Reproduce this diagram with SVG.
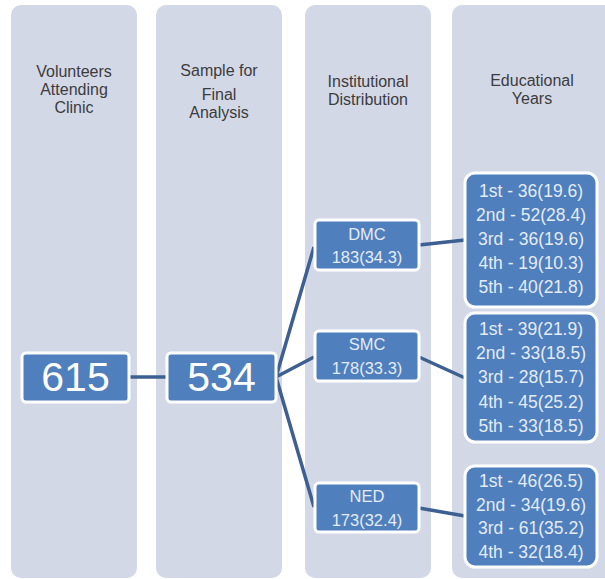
<svg xmlns="http://www.w3.org/2000/svg" width="605" height="579" viewBox="0 0 605 579">
<style>
.col{fill:#D3D8E7}
.hdr{font-family:"Liberation Sans",Arial,sans-serif;font-size:16px;fill:#3c3c3c;text-anchor:middle}
.box{fill:#4F7FBC;stroke:#FFFFFF;stroke-width:3}
.big{font-family:"Liberation Sans",Arial,sans-serif;font-size:41px;fill:#FFFFFF;text-anchor:middle}
.mid{font-family:"Liberation Sans",Arial,sans-serif;font-size:16.5px;fill:#E4ECF7;text-anchor:middle}
.yr{font-family:"Liberation Sans",Arial,sans-serif;font-size:17.5px;fill:#E4ECF7;text-anchor:middle}
.con{stroke:#3E5F91;stroke-width:3.5;fill:none;stroke-linecap:butt}
</style>
<rect width="605" height="579" fill="#FFFFFF"/>
<g id="columns">
<rect class="col" x="11" y="5" width="126" height="573" rx="10"/>
<rect class="col" x="156" y="5" width="126" height="573" rx="10"/>
<rect class="col" x="305" y="5" width="126" height="573" rx="10"/>
<rect class="col" x="452" y="5" width="165" height="573" rx="10"/>
</g>
<g id="headers">
<text class="hdr" x="74" y="77">Volunteers</text>
<text class="hdr" x="74" y="95">Attending</text>
<text class="hdr" x="74" y="113">Clinic</text>
<text class="hdr" x="219" y="76">Sample for</text>
<text class="hdr" x="219" y="100">Final</text>
<text class="hdr" x="219" y="118">Analysis</text>
<text class="hdr" x="368" y="87">Institutional</text>
<text class="hdr" x="368" y="105">Distribution</text>
<text class="hdr" x="532" y="86">Educational</text>
<text class="hdr" x="532" y="104">Years</text>
</g>
<g id="connectors">
<line class="con" x1="129" y1="377" x2="167" y2="377"/>
<line class="con" x1="276" y1="377" x2="314" y2="247"/>
<line class="con" x1="276" y1="377" x2="314" y2="357"/>
<line class="con" x1="276" y1="377" x2="314" y2="507"/>
<line class="con" x1="419" y1="245" x2="465" y2="240"/>
<line class="con" x1="419" y1="357" x2="465" y2="378"/>
<line class="con" x1="419" y1="508" x2="465" y2="516"/>
</g>
<g id="n615">
<rect class="box" x="22" y="353" width="107" height="49" rx="4"/>
<text class="big" x="75.5" y="391">615</text>
</g>
<g id="n534">
<rect class="box" x="167" y="353" width="109" height="49" rx="4"/>
<text class="big" x="221.5" y="391">534</text>
</g>
<g id="dmc">
<rect class="box" x="315" y="220" width="104" height="50" rx="4"/>
<text class="mid" x="367" y="240">DMC</text>
<text class="mid" x="367" y="263">183(34.3)</text>
</g>
<g id="smc">
<rect class="box" x="315" y="331" width="104" height="50" rx="4"/>
<text class="mid" x="367" y="350">SMC</text>
<text class="mid" x="367" y="374">178(33.3)</text>
</g>
<g id="ned">
<rect class="box" x="315" y="483" width="104" height="49" rx="4"/>
<text class="mid" x="367" y="502">NED</text>
<text class="mid" x="367" y="526">173(32.4)</text>
</g>
<g id="dmc-years">
<rect class="box" x="465" y="173" width="132" height="134" rx="10"/>
<text class="yr" x="531" y="197">1st - 36(19.6)</text>
<text class="yr" x="531" y="221">2nd - 52(28.4)</text>
<text class="yr" x="531" y="245">3rd - 36(19.6)</text>
<text class="yr" x="531" y="269">4th - 19(10.3)</text>
<text class="yr" x="531" y="293">5th - 40(21.8)</text>
</g>
<g id="smc-years">
<rect class="box" x="465" y="313" width="132" height="129" rx="10"/>
<text class="yr" x="531" y="335">1st - 39(21.9)</text>
<text class="yr" x="531" y="359">2nd - 33(18.5)</text>
<text class="yr" x="531" y="383">3rd - 28(15.7)</text>
<text class="yr" x="531" y="408">4th - 45(25.2)</text>
<text class="yr" x="531" y="432">5th - 33(18.5)</text>
</g>
<g id="ned-years">
<rect class="box" x="465" y="466" width="132" height="101" rx="10"/>
<text class="yr" x="531" y="487">1st - 46(26.5)</text>
<text class="yr" x="531" y="511">2nd - 34(19.6)</text>
<text class="yr" x="531" y="534">3rd - 61(35.2)</text>
<text class="yr" x="531" y="558">4th - 32(18.4)</text>
</g>
</svg>
